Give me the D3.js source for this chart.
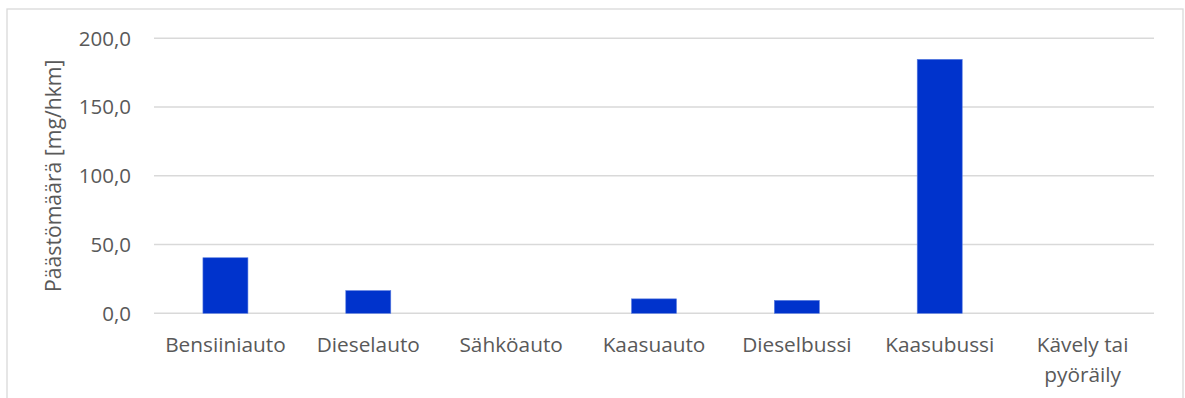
<!DOCTYPE html>
<html>
<head>
<meta charset="utf-8">
<script src="https://cdn.jsdelivr.net/npm/d3@7"></script>
<style>
html,body{margin:0;padding:0;background:#fff;}
svg{display:block;}
text{font-family:"Open Sans",sans-serif;fill:#595959;}
</style>
</head>
<body>
<svg id="chart" width="1185" height="398"></svg>
<script>
const categories = ["Bensiiniauto","Dieselauto","Sähköauto","Kaasuauto","Dieselbussi","Kaasubussi","Kävely tai pyöräily"];
const values = [40.4, 16.5, 0, 10.5, 9.4, 184.7, 0];
const yTicks = [0, 50, 100, 150, 200];
const yTitle = "Päästömäärä [mg/hkm]";

const svg = d3.select("#chart");
const W = 1185, H = 398;
const m = {left:154, right:31, top:38.3, bottom:84.7};
const iw = W - m.left - m.right, ih = H - m.top - m.bottom;

svg.append("rect").attr("x",7).attr("y",9).attr("width",1176).attr("height",400)
  .attr("fill","#fff").attr("stroke","#d9d9d9").attr("stroke-width",1.3);

const x = d3.scaleBand().domain(categories).range([m.left, m.left+iw]).padding(0);
const y = d3.scaleLinear().domain([0,200]).range([m.top+ih, m.top]);
const fmt = v => d3.format(".1f")(v).replace(".", ",");

// grid
svg.append("g").selectAll("line").data(yTicks).join("line")
  .attr("x1", m.left).attr("x2", m.left+iw)
  .attr("y1", d=>y(d)).attr("y2", d=>y(d))
  .attr("stroke","#d9d9d9").attr("stroke-width",1.4);

// y labels
svg.append("g").selectAll("text").data(yTicks).join("text")
  .attr("x", m.left-23).attr("y", d=>y(d)).attr("dy","0.36em")
  .attr("text-anchor","end").style("font-size","20.5px")
  .text(fmt);

// bars
const bw = x.bandwidth()*0.315;
svg.append("g").selectAll("rect").data(categories.map((c,i)=>({c,v:values[i]})).filter(d=>d.v>0)).join("rect")
  .attr("x", d=>x(d.c)+x.bandwidth()/2-bw/2)
  .attr("width", bw)
  .attr("y", d=>y(d.v))
  .attr("height", d=>y(0)-y(d.v))
  .attr("fill","#0033cc").attr("stroke","#5a7de0").attr("stroke-width",0.6);

// x labels
const xl = svg.append("g").selectAll("text").data(categories).join("text")
  .attr("text-anchor","middle").style("font-size","20.8px")
  .attr("transform", d=>`translate(${x(d)+x.bandwidth()/2},352)`);
xl.each(function(d){
  const t = d3.select(this);
  const lines = d==="Kävely tai pyöräily" ? ["Kävely tai","pyöräily"] : [d];
  lines.forEach((l,i)=>t.append("tspan").attr("x",0).attr("y",i*29.5).text(l));
});

// y title
svg.append("text").attr("transform",`translate(61,${m.top+ih/2}) rotate(-90)`)
  .attr("text-anchor","middle").style("font-size","21.2px").text(yTitle);
</script>
</body>
</html>
